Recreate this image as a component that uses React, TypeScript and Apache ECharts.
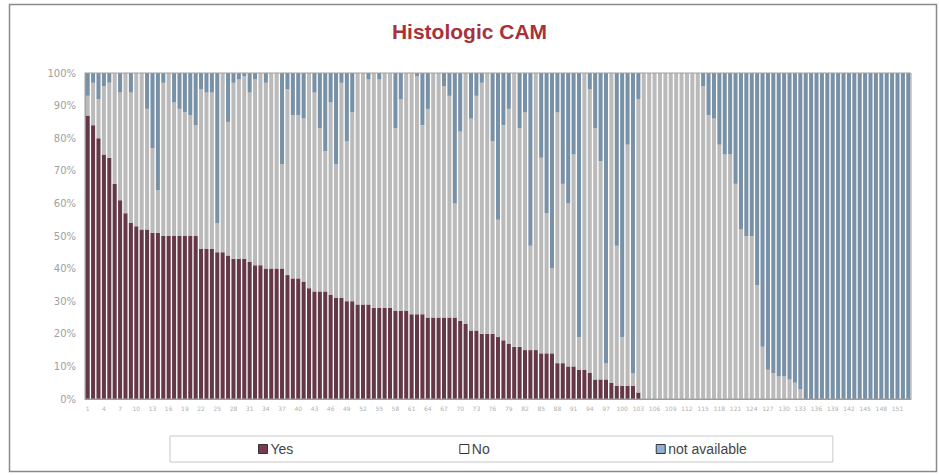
import React, { useEffect, useRef } from "react";
import * as echarts from "echarts";

const categories = Array.from({ length: 153 }, (_, i) => String(i + 1));

const yes = [
  87, 84, 80, 75, 74, 66, 61, 57, 54, 53,
  52, 52, 51, 51, 50, 50, 50, 50, 50, 50,
  50, 46, 46, 46, 45, 45, 44, 43, 43, 43,
  42, 41, 41, 40, 40, 40, 40, 38, 37, 37,
  36, 34, 33, 33, 33, 32, 31, 31, 30, 30,
  29, 29, 29, 28, 28, 28, 28, 27, 27, 27,
  26, 26, 26, 25, 25, 25, 25, 25, 25, 24,
  23, 21, 21, 20, 20, 20, 19, 18, 17, 16,
  16, 15, 15, 15, 14, 14, 14, 11, 11, 10,
  10, 9, 9, 8, 6, 6, 6, 5, 4, 4,
  4, 4, 2, 0, 0, 0, 0, 0, 0, 0,
  0, 0, 0, 0, 0, 0, 0, 0, 0, 0,
  0, 0, 0, 0, 0, 0, 0, 0, 0, 0,
  0, 0, 0, 0, 0, 0, 0, 0, 0, 0,
  0, 0, 0, 0, 0, 0, 0, 0, 0, 0,
  0, 0, 0,
];

const no = [
  6, 13, 12, 21, 23, 34, 33, 43, 40, 47,
  48, 37, 26, 13, 47, 50, 41, 39, 38, 37,
  34, 49, 48, 48, 9, 55, 41, 54, 55, 56,
  52, 57, 59, 57, 60, 60, 32, 57, 50, 50,
  50, 66, 61, 50, 43, 59, 41, 66, 49, 58,
  71, 71, 69, 72, 70, 72, 72, 56, 65, 73,
  74, 73, 58, 64, 75, 75, 71, 68, 35, 58,
  77, 65, 72, 77, 80, 59, 36, 66, 72, 84,
  67, 73, 32, 85, 60, 43, 26, 77, 55, 50,
  65, 10, 91, 87, 77, 67, 5, 95, 43, 15,
  74, 4, 90, 100, 100, 100, 100, 100, 100, 100,
  100, 100, 100, 100, 96, 87, 86, 78, 75, 75,
  66, 52, 50, 50, 35, 16, 9, 8, 7, 7,
  6, 5, 3, 0, 0, 0, 0, 0, 0, 0,
  0, 0, 0, 0, 0, 0, 0, 0, 0, 0,
  0, 0, 0,
];

const notAvailable = [
  7, 3, 8, 4, 3, 0, 6, 0, 6, 0,
  0, 11, 23, 36, 3, 0, 9, 11, 12, 13,
  16, 5, 6, 6, 46, 0, 15, 3, 2, 1,
  6, 2, 0, 3, 0, 0, 28, 5, 13, 13,
  14, 0, 6, 17, 24, 9, 28, 3, 21, 12,
  0, 0, 2, 0, 2, 0, 0, 17, 8, 0,
  0, 1, 16, 11, 0, 0, 4, 7, 40, 18,
  0, 14, 7, 3, 0, 21, 45, 16, 11, 0,
  17, 12, 53, 0, 26, 43, 60, 12, 34, 40,
  25, 81, 0, 5, 17, 27, 89, 0, 53, 81,
  22, 92, 8, 0, 0, 0, 0, 0, 0, 0,
  0, 0, 0, 0, 4, 13, 14, 22, 25, 25,
  34, 48, 50, 50, 65, 84, 91, 92, 93, 93,
  94, 95, 97, 100, 100, 100, 100, 100, 100, 100,
  100, 100, 100, 100, 100, 100, 100, 100, 100, 100,
  100, 100, 100,
];

const seriesNames = ["Yes", "No", "not available"];
const seriesColors = ["#643846", "#bababa", "#7891a6"];
const legendColors = ["#7a3a4e", "#ffffff", "#8fb0d6"];

export default function App() {
  const ref = useRef<HTMLDivElement>(null);
  useEffect(() => {
    const chart = echarts.init(ref.current!, null, { renderer: "svg" });
    const values = [yes, no, notAvailable];
    chart.setOption({
      animation: false,
      backgroundColor: "#ffffff",
      title: {
        text: "Histologic CAM",
        left: "center",
        top: 16,
        textStyle: {
          color: "#a8323a",
          fontSize: 21,
          fontWeight: "bold",
          fontFamily: "Liberation Sans",
        },
      },
      grid: { left: 85, right: 28, top: 73, bottom: 76 },
      xAxis: {
        type: "category",
        data: categories,
        axisLabel: {
          interval: 2,
          fontSize: 6,
          color: "#b0b0b0",
          margin: 6,
          fontFamily: "DejaVu Sans",
        },
        axisTick: { show: false },
        axisLine: { lineStyle: { color: "#999999" } },
      },
      yAxis: {
        type: "value",
        min: 0,
        max: 100,
        interval: 10,
        axisLabel: {
          formatter: "{value}%",
          color: "#a0a0a0",
          fontSize: 10,
          margin: 9,
          fontFamily: "DejaVu Sans",
        },
        splitLine: { show: false },
        axisLine: { show: true, lineStyle: { color: "#999999" } },
        axisTick: { show: false },
      },
      legend: {
        left: 170,
        top: 436,
        padding: [6, 86, 6, 88],
        borderColor: "#c8c8c8",
        borderWidth: 1,
        itemGap: 166,
        itemWidth: 9,
        itemHeight: 9,
        icon: "rect",
        textStyle: { fontSize: 14, color: "#444444", fontFamily: "Liberation Sans", padding: [0, 0, 0, -2] },
        data: seriesNames.map((n, i) => ({
          name: n,
          itemStyle: { color: legendColors[i], borderColor: "#333333", borderWidth: 1 },
        })),
      },
      graphic: [
        {
          type: "rect",
          silent: true,
          shape: { x: 9.5, y: 4.5, width: 927, height: 467 },
          style: { fill: "none", stroke: "#8a8a8a", lineWidth: 1.5 },
        },
        {
          type: "rect",
          silent: true,
          z: 10,
          shape: { x: 85, y: 73, width: 826, height: 326 },
          style: { fill: "none", stroke: "#a0a0a0", lineWidth: 1 },
        },
      ],
      series: seriesNames.map((n, i) => ({
        name: n,
        type: "bar",
        stack: "total",
        barCategoryGap: "25%",
        data: values[i],
        itemStyle: { color: seriesColors[i] },
      })),
    });
    return () => chart.dispose();
  }, []);
  return (
    <div
      ref={ref}
      style={{ position: "fixed", left: 0, top: 0, width: 939, height: 475 }}
    />
  );
}
